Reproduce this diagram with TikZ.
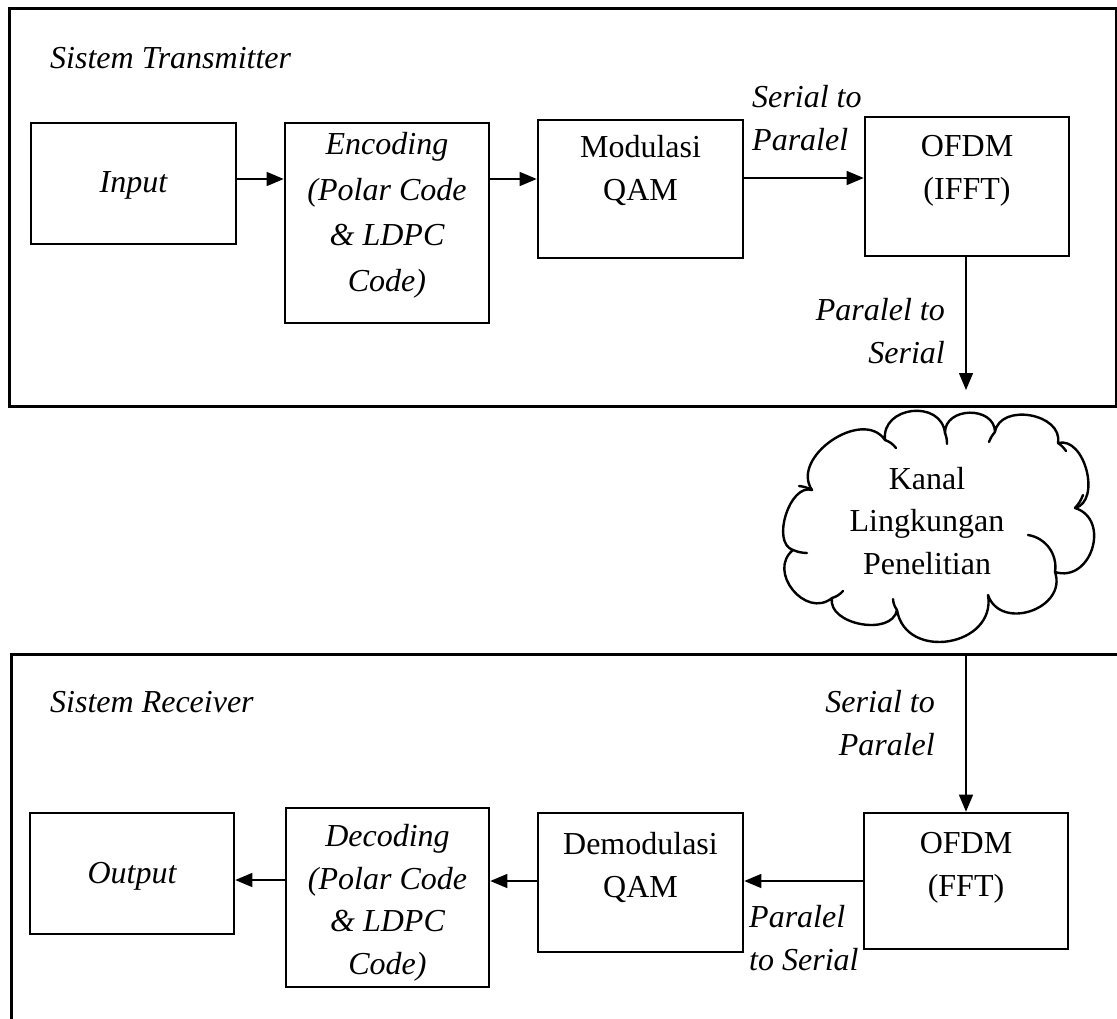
\documentclass[tikz,border=0pt]{standalone}
\usepackage{fontspec}
\setmainfont{Liberation Serif}
\usetikzlibrary{arrows.meta}
\begin{document}
\begin{tikzpicture}[x=1pt,y=-1pt,
  txt/.style={font=\fontsize{32}{42.5}\selectfont, inner sep=0pt},
  it/.style={inner sep=0pt, font=\fontsize{32}{42.5}\selectfont\itshape},
  blk/.style={draw, line width=2.6pt, inner sep=0pt},
  arr/.style={line width=1.3pt, -{Triangle[length=17pt,width=14pt]}},
  frame/.style={line width=3pt},
  puff/.style={line width=2.4pt, line cap=round, line join=round}]

\useasboundingbox (0,0) rectangle (1117,1018);
\fill[white] (0,0) rectangle (1117,1018);

% system frames
\draw[frame] (9,8) rectangle (1116,406);
\draw[frame] (1122,654) -- (11,654) -- (11,1024);

\node[it, anchor=base west] (ttx) at (50,68) {Sistem Transmitter};
\node[it, anchor=base west] (trx) at (50,712) {Sistem Receiver};

% transmitter blocks
\node[blk, minimum width=205pt, minimum height=121pt] (inp) at (133.5,183.5) {};
\node[blk, minimum width=204pt, minimum height=200pt] (enc) at (387,223) {};
\node[blk, minimum width=205pt, minimum height=138pt] (mod) at (640.5,189) {};
\node[blk, minimum width=204pt, minimum height=139pt] (ofdmT) at (967,186.5) {};

% (the base anchor of a multi-line node sits on its last line)
\node[it, anchor=base] (tinp) at (133.5,192) {Input};
\node[it, anchor=base, align=center, font=\fontsize{32}{45.5}\selectfont\itshape] (tenc) at (387,291) {Encoding\\(Polar Code\\\& LDPC\\Code)};
\node[txt, anchor=base, align=center] (tmod) at (640.5,200) {Modulasi\\QAM};
\node[txt, anchor=base, align=center] (tofdmT) at (967,199) {OFDM\\(IFFT)};

% channel cloud, built from puffs plus the short inner hooks
\draw[puff] (812,490) to[bend left=90, looseness=1.15] (885,440)
  to[bend left=90, looseness=1.45] (945,433)
  to[bend left=90, looseness=1.35] (995,432)
  to[bend left=90, looseness=1.2] (1058,443)
  to[bend left=90, looseness=1.05] (1075,508)
  to[bend left=90, looseness=1.45] (1055,572)
  to[bend left=90, looseness=1.4] (988,595)
  to[bend left=90, looseness=1.45] (897,610)
  to[bend left=90, looseness=1.05] (832,598)
  to[bend left=90, looseness=1.4] (793,550)
  to[bend left=90, looseness=0.95] (812,490) -- cycle;
\draw[puff] (885,440) to[bend left=15] (896,448);
\draw[puff] (945,433) to[bend left=10] (947,444);
\draw[puff] (995,432) to[bend right=10] (989,442);
\draw[puff] (1058,443) to[bend left=10] (1066,451);
\draw[puff] (1075,508) to[bend right=10] (1083,495);
\draw[puff] (1028,535) to[bend left=45] (1055,572);
\draw[puff] (897,610) to[bend left=15] (893,599);
\draw[puff] (832,598) to[bend right=15] (843,591);
\draw[puff] (793,550) to[bend right=10] (807,553);
\draw[puff] (812,490) to[bend right=10] (799,486);
\node[txt, anchor=base, align=center] (tkanal) at (927,574) {Kanal\\Lingkungan\\Penelitian};

% receiver blocks
\node[blk, minimum width=204pt, minimum height=121pt] (out) at (132,873.5) {};
\node[blk, minimum width=203pt, minimum height=179pt] (dec) at (387.5,897.5) {};
\node[blk, minimum width=205pt, minimum height=139pt] (demod) at (640.5,882.5) {};
\node[blk, minimum width=204pt, minimum height=136pt] (ofdmR) at (966,881) {};

\node[it, anchor=base] (tout) at (132,883) {Output};
\node[it, anchor=base, align=center] (tdec) at (387.5,974) {Decoding\\(Polar Code\\\& LDPC\\Code)};
\node[txt, anchor=base, align=center] (tdemod) at (640.5,897) {Demodulasi\\QAM};
\node[txt, anchor=base, align=center] (tofdmR) at (966,896) {OFDM\\(FFT)};

% connector labels
\node[it, anchor=base west, align=left] (l1) at (752,150) {Serial to\\Paralel};
\node[it, anchor=base east, align=right] (l2) at (945,363) {Paralel to\\Serial};
\node[it, anchor=base east, align=right] (l3) at (935,755) {Serial to\\Paralel};
\node[it, anchor=base west, align=left] (l4) at (749,970) {Paralel\\to Serial};

% connectors
\coordinate (txout) at (966,390);
\coordinate (rxin) at (966,653);
\draw[arr] (inp.east |- 0,179) -- (enc.west |- 0,179);
\draw[arr] (enc.east |- 0,179) -- (mod.west |- 0,179);
\draw[arr] (mod.east |- 0,178) -- (ofdmT.west |- 0,178);
\draw[arr] (ofdmT.south -| txout) -- (txout);
\draw[arr] (rxin) -- (ofdmR.north -| rxin);
\draw[arr] (ofdmR.west |- 0,881) -- (demod.east |- 0,881);
\draw[arr] (demod.west |- 0,881) -- (dec.east |- 0,881);
\draw[arr] (dec.west |- 0,880) -- (out.east |- 0,880);
\end{tikzpicture}
\end{document}
